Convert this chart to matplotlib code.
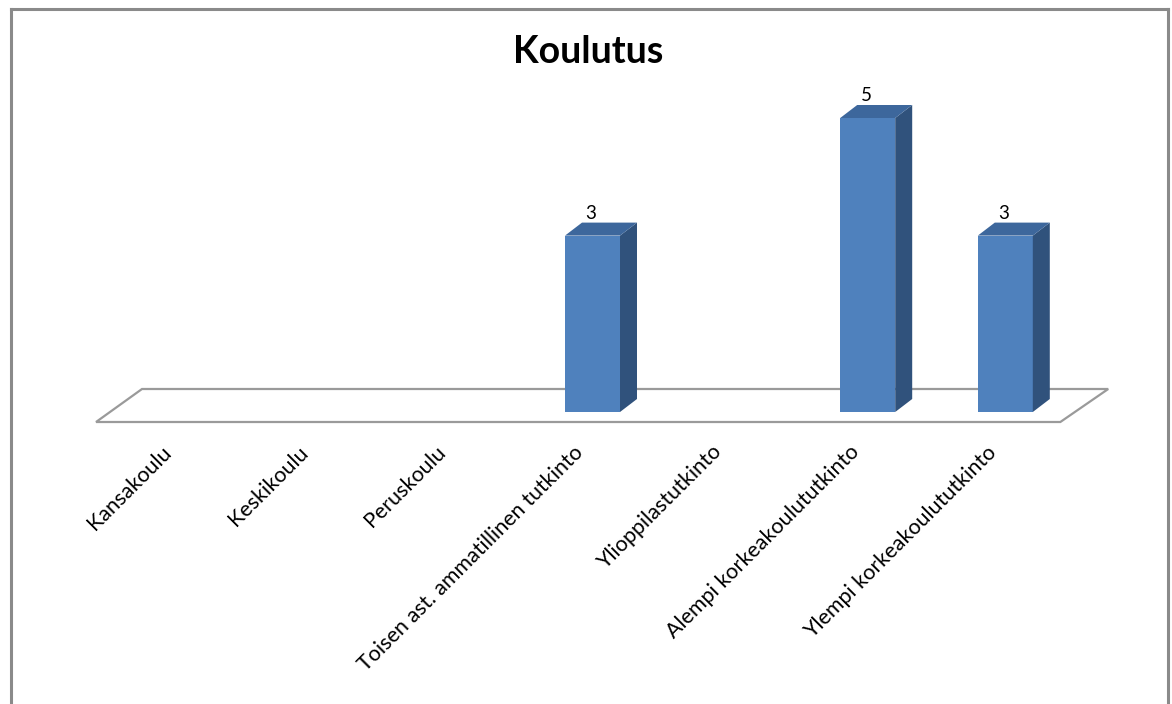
import matplotlib
matplotlib.use("Agg")
import matplotlib.pyplot as plt
from matplotlib.patches import Polygon
from matplotlib.lines import Line2D

categories = [
    "Kansakoulu",
    "Keskikoulu",
    "Peruskoulu",
    "Toisen ast. ammatillinen tutkinto",
    "Ylioppilastutkinto",
    "Alempi korkeakoulututkinto",
    "Ylempi korkeakoulututkinto",
]
values = [0, 0, 0, 3, 0, 5, 3]
title = "Koulutus"

plt.rcParams["font.family"] = ["Lato", "DejaVu Sans"]

W, H = 1172, 704
fig = plt.figure(figsize=(W / 100, H / 100), dpi=100)
ax = fig.add_axes([0, 0, 1, 1])

# axis scale: category units horizontally, value units vertically
x0_px, step_px = 179.7, 137.6
base_px, unit_px = 412.0, 58.8
ax.set_xlim(-x0_px / step_px, (W - x0_px) / step_px)
ax.set_ylim((base_px - H) / unit_px, base_px / unit_px)
ax.axis("off")

px_x = 1.0 / step_px
px_y = 1.0 / unit_px

# 3D floor outline
floor_front = -10 * px_y
floor_back = 23 * px_y
floor = Polygon(
    [(-0.608, floor_front), (6.40, floor_front), (6.748, floor_back), (-0.274, floor_back)],
    closed=True, fill=False, edgecolor="#9a9a9a", linewidth=1.6, zorder=1,
)
ax.add_patch(floor)

# bars with depth
half_w = 27.5 * px_x
dx, dy = 17 * px_x, 13 * px_y
c_front, c_top, c_side = "#4F81BD", "#3D679C", "#30527C"
for i, v in enumerate(values):
    if v <= 0:
        continue
    l, r = i - half_w, i + half_w
    front = Polygon([(l, 0), (r, 0), (r, v), (l, v)], closed=True,
                    facecolor=c_front, edgecolor="none", zorder=3)
    side = Polygon([(r, 0), (r + dx, dy), (r + dx, v + dy), (r, v)], closed=True,
                   facecolor=c_side, edgecolor="none", zorder=3)
    top = Polygon([(l, v), (r, v), (r + dx, v + dy), (l + dx, v + dy)], closed=True,
                  facecolor=c_top, edgecolor="none", zorder=3)
    for p in (front, side, top):
        ax.add_patch(p)
    ax.text(i - 1.5 * px_x, v + dy + 1 * px_y, str(v), ha="center", va="bottom",
            fontsize=13.5, color="#000000", zorder=4)

# rotated category labels
for i, lab in enumerate(categories):
    ax.text(i - 12 * px_x, -37 * px_y, lab, rotation=45, rotation_mode="anchor",
            ha="right", va="center", fontsize=15.5, color="#000000")

fig.text(588 / W, 1 - 52 / H, title, ha="center", va="center",
         fontsize=27, fontweight="bold", color="#000000")

# chart area border
border_kw = dict(color="#8a8a8a", linewidth=2.2, transform=fig.transFigure)
fig.add_artist(Line2D([10.5 / W, 1167.5 / W], [1 - 8.5 / H, 1 - 8.5 / H], **border_kw))
fig.add_artist(Line2D([10.5 / W, 10.5 / W], [1 - 8.5 / H, 0], **border_kw))
fig.add_artist(Line2D([1167.5 / W, 1167.5 / W], [1 - 8.5 / H, 0], **border_kw))

fig.savefig("out.png", dpi=100, facecolor="white")
